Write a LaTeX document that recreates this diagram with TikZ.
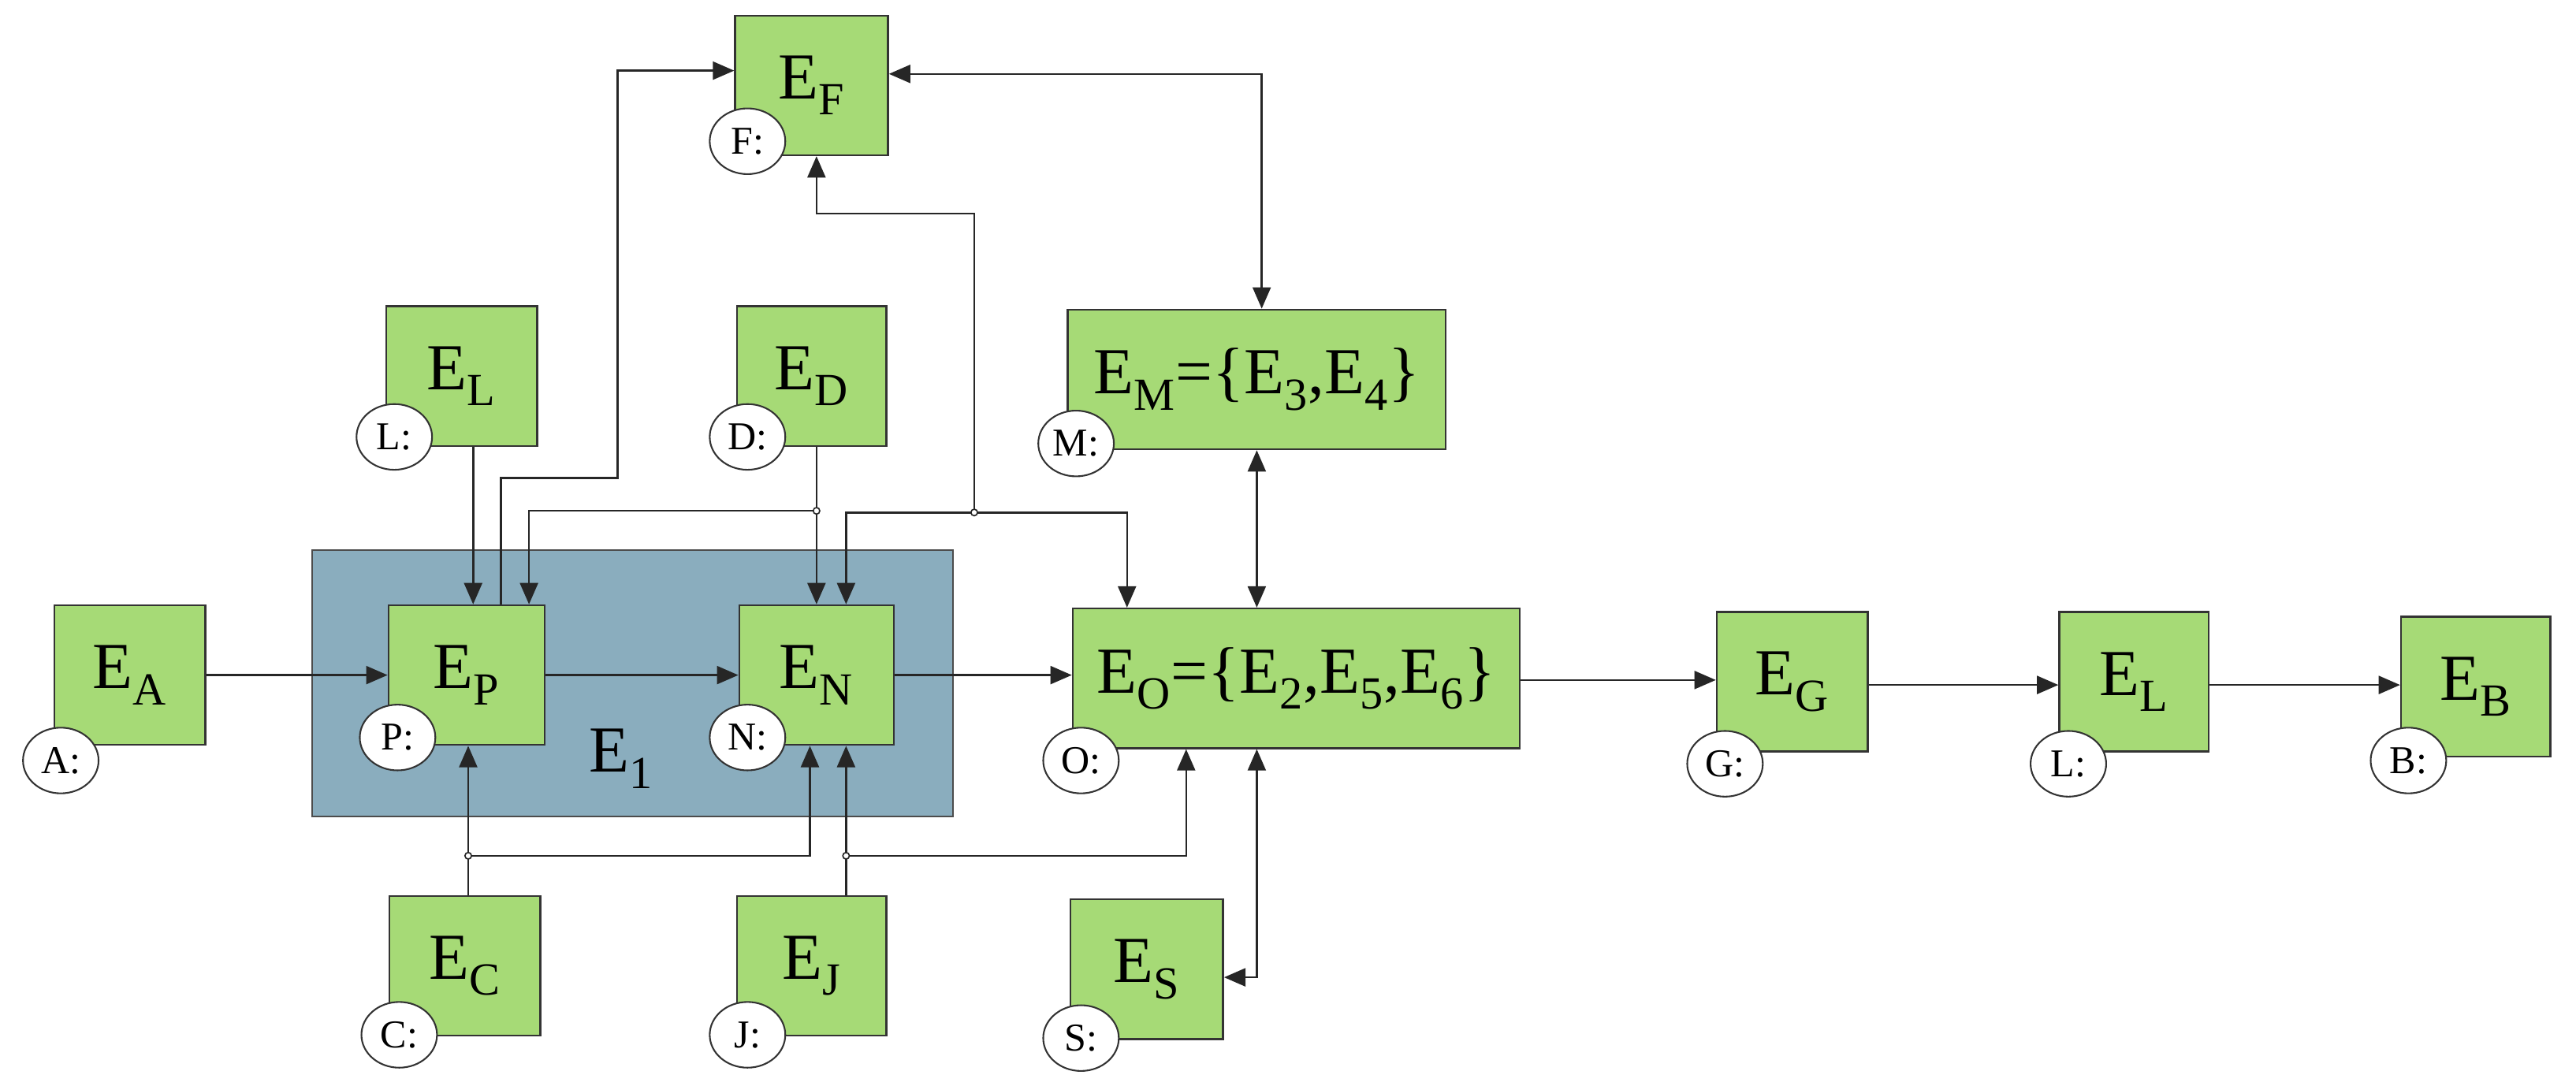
\documentclass[tikz,border=0pt]{standalone}
\usepackage{fontspec}
\setmainfont{Liberation Serif}
\usetikzlibrary{arrows.meta,shapes.geometric}
\definecolor{gr}{HTML}{A6DA76}
\definecolor{bl}{HTML}{8AADBE}
\begin{document}
\begin{tikzpicture}[x=1pt,y=-1pt,
 box/.style={draw=black!80,line width=1.2pt,fill=gr,inner sep=0pt,font=\fontsize{40}{40}\selectfont},
 ell/.style={ellipse,draw=black!80,line width=1pt,fill=white,minimum width=46,minimum height=40,inner sep=0pt,font=\fontsize{24}{24}\selectfont},
 ln/.style={draw=black!85,line width=1.2pt},
 ar/.style={ln,-{Triangle[length=13pt,width=11pt]}},
 dar/.style={ln,{Triangle[length=13pt,width=11pt]}-{Triangle[length=13pt,width=11pt]}},
 dot/.style={circle,draw=black!85,fill=white,line width=0.8pt,inner sep=0pt,minimum size=4pt}]
\useasboundingbox (0,0) rectangle (1568,661);
\node[draw=black!70,line width=1.2pt,fill=bl,minimum width=390,minimum height=162,inner sep=0pt] (E1) at (385,416) {};
\node[font=\fontsize{40}{40}\selectfont] (E1l) at (378,462) {E$_{\mathrm{1}}$};
\newcommand{\bx}[5]{\node[box,minimum width=#4,minimum height=85] (#1) at (#2,#3) {#5};}
\bx{EA}{79}{411}{92}{E\textsubscript{A}}
\bx{EP}{284}{411}{95}{E\textsubscript{P}}
\bx{EN}{497}{411}{94}{E\textsubscript{N}}
\bx{EO}{789}{413}{272}{E\textsubscript{O}=\{E\textsubscript{2},E\textsubscript{5},E\textsubscript{6}\}}
\bx{EG}{1091}{415}{92}{E\textsubscript{G}}
\bx{EL2}{1299}{415}{91}{E\textsubscript{L}}
\bx{EB}{1507}{418}{91}{E\textsubscript{B}}
\bx{EF}{494}{52}{93}{E\textsubscript{F}}
\bx{EL}{281}{229}{92}{E\textsubscript{L}}
\bx{ED}{494}{229}{91}{E\textsubscript{D}}
\bx{EM}{765}{231}{230}{E\textsubscript{M}=\{E\textsubscript{3},E\textsubscript{4}\}}
\bx{EC}{283}{588}{92}{E\textsubscript{C}}
\bx{EJ}{494}{588}{91}{E\textsubscript{J}}
\bx{ES}{698}{590}{93}{E\textsubscript{S}}
\node[ell] (eA) at (37,463) {A:};
\node[ell] (eP) at (242,449) {P:};
\node[ell] (eN) at (455,449) {N:};
\node[ell] (eO) at (658,463) {O:};
\node[ell] (eG) at (1050,465) {G:};
\node[ell] (eL2) at (1259,465) {L:};
\node[ell] (eB) at (1466,463) {B:};
\node[ell] (eF) at (455,86) {F:};
\node[ell] (eL) at (240,266) {L:};
\node[ell] (eD) at (455,266) {D:};
\node[ell] (eM) at (655,270) {M:};
\node[ell] (eC) at (243,630) {C:};
\node[ell] (eJ) at (455,630) {J:};
\node[ell] (eS) at (658,632) {S:};
% junctions
\coordinate (jD) at (497,311);
\coordinate (jM) at (593,312);
\coordinate (jC) at (285,521);
\coordinate (jJ) at (515,521);
% horizontal flow
\draw[ar] (EA.east |- 0,411) -- (EP.west |- 0,411);
\draw[ar] (EP.east |- 0,411) -- (EN.west |- 0,411);
\draw[ar] (EN.east |- 0,411) -- (EO.west |- 0,411);
\draw[ar] (EO.east |- 0,414) -- (EG.west |- 0,414);
\draw[ar] (EG.east |- 0,417) -- (EL2.west |- 0,417);
\draw[ar] (EL2.east |- 0,417) -- (EB.west |- 0,417);
% top inputs
\draw[ar] (EL.south -| 288,0) -- (EP.north -| 288,0);
\draw[ar] (EP.north -| 305,0) -- (305,291) -- (376,291) -- (376,43) -- (EF.west |- 0,43);
\draw[ar] (ED.south -| 497,0) -- (EN.north -| 497,0);
\draw[ar] (jD) -- (322,311) -- (EP.north -| 322,0);
\draw[ar] (jM) -- (515,312) -- (EN.north -| 515,0);
\draw[ar] (jM) -- (686,312) -- (EO.north -| 686,0);
\draw[ar] (jM) -- (593,130) -- (497,130) -- (EF.south -| 497,0);
% bottom inputs
\draw[ar] (EC.north -| 285,0) -- (EP.south -| 285,0);
\draw[ar] (jC) -- (493,521) -- (EN.south -| 493,0);
\draw[ar] (EJ.north -| 515,0) -- (EN.south -| 515,0);
\draw[ar] (jJ) -- (722,521) -- (EO.south -| 722,0);
% double arrows
\draw[dar] (EO.south -| 765,0) -- (765,595) -- (ES.east |- 0,595);
\draw[dar] (EM.south -| 765,0) -- (EO.north -| 765,0);
\draw[dar] (EF.east |- 0,45) -- (768,45) -- (EM.north -| 768,0);
\foreach \j in {jD,jM,jC,jJ} \node[dot] at (\j) {};
\end{tikzpicture}
\end{document}
